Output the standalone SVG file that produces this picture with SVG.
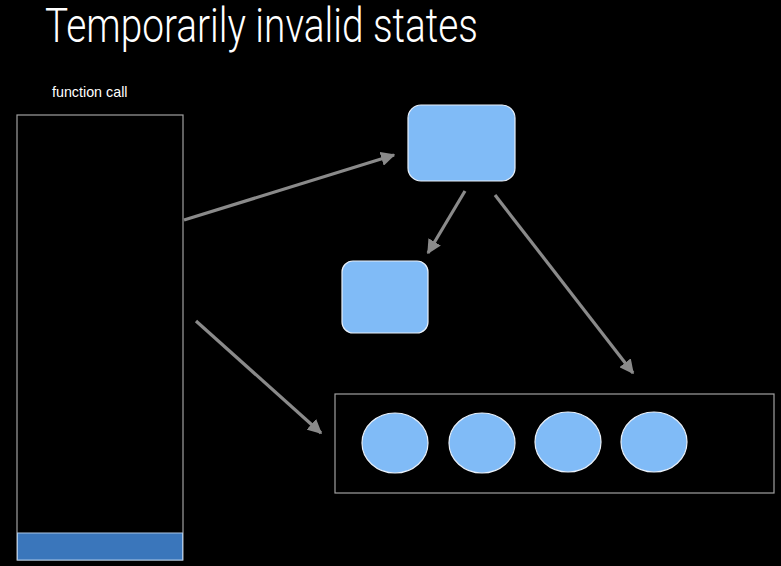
<svg xmlns="http://www.w3.org/2000/svg" width="781" height="566" viewBox="0 0 781 566">
<style>
.title{font-family:Roboto,"Liberation Sans",sans-serif;font-weight:300;font-size:49px;fill:#fff}
.lbl{font-family:"Liberation Sans",Arial,sans-serif;font-size:14.3px;fill:#fff}
.obj{fill:#80bbf7;stroke:#e8f0fa;stroke-width:1.2}
.edge{stroke:#8a8a8a;stroke-width:3.2;fill:none;marker-end:url(#ah)}
.frame{fill:none;stroke:#a0a0a0;stroke-width:1.2}
</style>
<defs>
<marker id="ah" viewBox="0 0 10 10" refX="9" refY="5" markerWidth="4.5" markerHeight="4.5" orient="auto" markerUnits="strokeWidth">
<path d="M0,0 L10,5 L0,10 z" fill="#8a8a8a"/>
</marker>
</defs>
<rect width="781" height="566" fill="#000"/>
<text class="title" x="45" y="42" textLength="433" lengthAdjust="spacingAndGlyphs">Temporarily invalid states</text>
<g id="stack">
<text class="lbl" x="52" y="97">function call</text>
<rect class="frame" x="17" y="115" width="166" height="445"/>
<rect x="17.5" y="533" width="165" height="27" fill="#3a76bb" stroke="#a9c6e6" stroke-width="1"/>
</g>
<g id="objA"><rect class="obj" x="408" y="105" width="107" height="76" rx="13"/></g>
<g id="objB"><rect class="obj" x="342" y="261" width="86" height="72" rx="11"/></g>
<g id="array">
<rect class="frame" x="335" y="394" width="439" height="99" stroke="#d0d0d0"/>
<ellipse class="obj" cx="395" cy="443" rx="33" ry="30"/>
<ellipse class="obj" cx="482" cy="443" rx="33" ry="30"/>
<ellipse class="obj" cx="568" cy="442" rx="33" ry="30"/>
<ellipse class="obj" cx="654" cy="442" rx="33" ry="30"/>
</g>
<g id="connectors">
<line class="edge" x1="184" y1="220" x2="394" y2="155"/>
<line class="edge" x1="465" y1="191" x2="428" y2="253"/>
<line class="edge" x1="495" y1="195" x2="633" y2="373"/>
<line class="edge" x1="196" y1="321" x2="321" y2="433"/>
</g>
</svg>
